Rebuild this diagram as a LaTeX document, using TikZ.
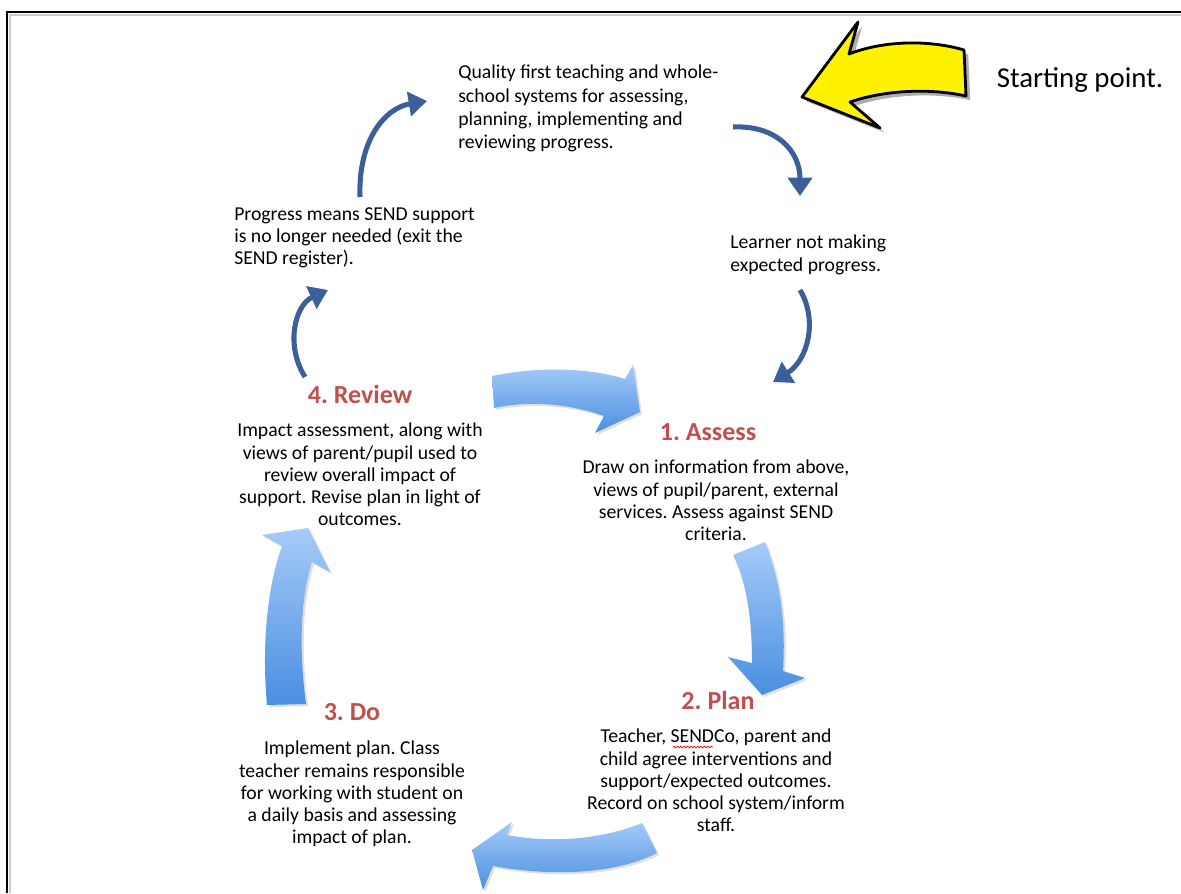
\documentclass[tikz,border=0pt]{standalone}
\usepackage{fontspec}
\setmainfont{Carlito}
\frenchspacing
\usetikzlibrary{arrows.meta,shadows,decorations.pathmorphing}
\definecolor{headred}{RGB}{192,80,77}
\definecolor{darkblue}{RGB}{58,95,155}
\definecolor{lightblue}{RGB}{165,203,248}
\definecolor{midblue}{RGB}{74,143,224}
\tikzset{
	txt/.style={inner sep=0pt, font=\fontsize{14}{15.8}\selectfont},
	head/.style={inner sep=0pt, text=headred, font=\fontsize{18.5}{22}\selectfont\bfseries},
	thinarrow/.style={darkblue, line width=3.6pt, -{Triangle[length=13pt,width=17pt]}},
	bigarrow/.style={top color=lightblue, bottom color=midblue, drop shadow={shadow xshift=1.5pt, shadow yshift=-1.5pt, opacity=0.25}},
}
\begin{document}
\begin{tikzpicture}[x=0.025cm,y=-0.025cm]
		\useasboundingbox (0,0) rectangle (1181,893);
		\draw [gray!40, line width=0.8pt] (10,893) -- (10,15) -- (1181,15);
		\draw [line width=2pt] (7,893) -- (7,12) -- (1181,12);
		\node [txt, anchor=north west, align=left, font=\fontsize{14}{16.5}\selectfont] (quality) at (458,65) {Quality first teaching and whole-\\school systems for assessing,\\planning, implementing and\\reviewing progress.};
		\node [inner sep=0pt, font=\fontsize{20.5}{24}\selectfont] (start) at (1080,80) {Starting point.};
		\node [txt, anchor=north west, align=left] (progress) at (234,207) {Progress means SEND support\\is no longer needed (exit the\\SEND register).};
		\node [txt, anchor=north west, align=left] (learner) at (730,235) {Learner not making\\expected progress.};
		\node [head] (review) at (360,394) {4. Review};
		\node [txt, anchor=north, align=center] (reviewtxt) at (360,423) {Impact assessment, along with\\views of parent/pupil used to\\review overall impact of\\support. Revise plan in light of\\outcomes.};
		\node [head] (assess) at (708,432) {1. Assess};
		\node [txt, anchor=north, align=center] (assesstxt) at (716,460) {Draw on information from above,\\views of pupil/parent, external\\services. Assess against SEND\\criteria.};
		\node [head] (plan) at (718,700) {2. Plan};
		\node [txt, anchor=north, align=center] (plantxt) at (716,729) {Teacher, SENDCo, parent and\\child agree interventions and\\support/expected outcomes.\\Record on school system/inform\\staff.};
		\draw [red, line width=0.5pt, decorate, decoration={snake, amplitude=0.6pt, segment length=2.4pt}] (673,747) -- (713,747);
		\node [head] (do) at (352,712) {3. Do};
		\node [txt, anchor=north, align=center] (dotxt) at (352,741) {Implement plan. Class\\teacher remains responsible\\for working with student on\\a daily basis and assessing\\impact of plan.};
		\draw [line width=2pt, line join=round, fill=yellow, drop shadow={shadow xshift=3pt, shadow yshift=-3pt, fill=gray!80, opacity=0.8}] (802,97) -- (858,22) -- (849,54) .. controls (885,40) and (930,40) .. (964,50) -- (966,96) .. controls (930,88) and (885,90) .. (850,102) -- (880,128) -- cycle;
		\coordinate (t1) at (360,197);
		\coordinate (h1) at (427,101);
		\coordinate (t2) at (733,127);
		\coordinate (h2) at (800,196);
		\coordinate (t3) at (800,290);
		\coordinate (h3) at (773,382);
		\coordinate (t4) at (305,377);
		\coordinate (h4) at (328,290);
		\draw [thinarrow] (t1) .. controls (358,140) and (385,108) .. (h1);
		\draw [thinarrow] (t2) .. controls (775,125) and (800,150) .. (h2);
		\draw [thinarrow] (t3) .. controls (818,320) and (808,360) .. (h3);
		\draw [thinarrow] (t4) .. controls (285,345) and (295,305) .. (h4);
		\path [bigarrow] (492,376) .. controls (540,366) and (590,368) .. (625,379) -- (633,365) -- (640,412) -- (595,433) -- (604,416) .. controls (570,404) and (530,400) .. (494,408) -- cycle;
		\path [bigarrow] (733,555) .. controls (748,585) and (752,625) .. (752,663) -- (728,657) -- (762,695) -- (805,678) -- (783,671) .. controls (786,620) and (780,580) .. (765,542) -- cycle;
		\path [bigarrow] (642,823) .. controls (600,840) and (550,843) .. (507,835) -- (512,822) -- (472,850) -- (483,890) -- (493,866) .. controls (560,878) and (620,872) .. (657,853) -- cycle;
		\path [bigarrow] (282,546) .. controls (266,590) and (262,650) .. (267,705) -- (306,704) .. controls (299,650) and (300,600) .. (312,562) -- (330,572) -- (308,528) -- (262,535) -- cycle;
\end{tikzpicture}
\end{document}
